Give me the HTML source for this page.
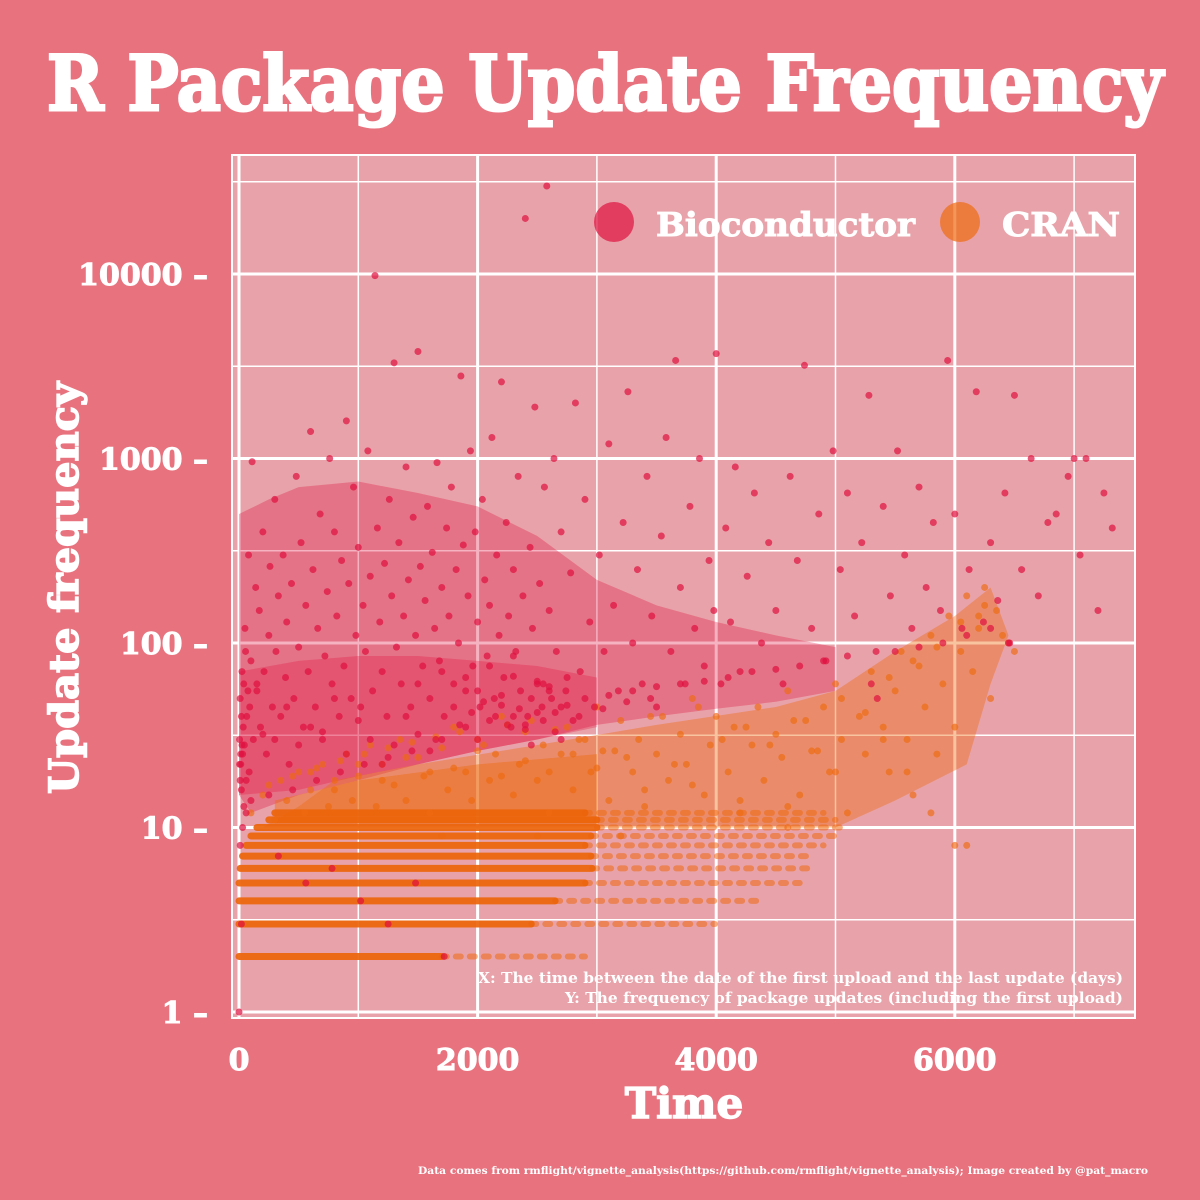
<!DOCTYPE html>
<html><head><meta charset="utf-8">
<style>
html,body{margin:0;padding:0;background:#E8737F;}
svg{display:block;}
text{font-family:"DejaVu Serif","Liberation Serif",serif;font-weight:bold;fill:#fff;}
</style></head>
<body>
<svg id="chart" width="1200" height="1200" viewBox="0 0 1200 1200">
<rect x="0" y="0" width="1200" height="1200" fill="#E8737F"/>
<text x="605" y="110" text-anchor="middle" font-size="76" stroke="#fff" stroke-width="3" textLength="1116" lengthAdjust="spacingAndGlyphs">R Package Update Frequency</text>
<rect x="232" y="155" width="903" height="863" fill="#E8A3AA"/>
<g id="grid"></g>
<g id="density"></g>
<g id="bands"></g>
<g id="cranpts"></g>
<g id="biopts"></g>
<g id="yticks"></g>
<g id="xticks"></g>
<text x="684" y="1118" text-anchor="middle" font-size="42" stroke="#fff" stroke-width="1.5">Time</text>
<text transform="translate(78,588) rotate(-90)" text-anchor="middle" font-size="40" stroke="#fff" stroke-width="1.5" textLength="412" lengthAdjust="spacingAndGlyphs">Update frequency</text>
<g>
<g>
<circle cx="614" cy="222" r="20" fill="#E0103F" fill-opacity="0.7"/>
<text x="656" y="236" font-size="33" stroke="#fff" stroke-width="1" textLength="259" lengthAdjust="spacingAndGlyphs">Bioconductor</text>
</g>
<g>
<circle cx="960" cy="222" r="20" fill="#EE6A10" fill-opacity="0.7"/>
<text x="1002" y="236" font-size="33" stroke="#fff" stroke-width="1" textLength="118" lengthAdjust="spacingAndGlyphs">CRAN</text>
</g>
</g>
<text x="1123" y="983" text-anchor="end" font-size="15" textLength="645" lengthAdjust="spacingAndGlyphs">X: The time between the date of the first upload and the last update (days)</text>
<text x="1123" y="1003" text-anchor="end" font-size="15" textLength="558" lengthAdjust="spacingAndGlyphs">Y: The frequency of package updates (including the first upload)</text>
<text x="1148" y="1174" text-anchor="end" font-size="10" textLength="730" lengthAdjust="spacingAndGlyphs">Data comes from  rmflight/vignette_analysis(https://github.com/rmflight/vignette_analysis); Image created by @pat_macro</text>
</svg>
<script>
const xTicks = [0, 2000, 4000, 6000];
const xMinor = [1000, 3000, 5000, 7000];
const yTicks = [1, 10, 100, 1000, 10000];
const yTickLabels = ["1", "10", "100", "1000", "10000"];
const yMinor = [3.1623, 31.623, 316.23, 3162.3, 31623];

const bioCloudX = [0,0,250,500,1000,1500,2000,2500,3000,3500,4000,4500,5000,5000,4500,4000,3500,3000,2500,2000,1500,1000,500,100];
const bioCloudY = [15,500,600,700,750,650,550,380,220,160,130,110,95,55,48,44,40,36,30,26,22,18,15,12];
const bioCoreX = [0,500,1000,1500,2000,2500,3000,3000,2500,2000,1500,1000,500,0];
const bioCoreY = [70,80,85,85,80,75,65,35,30,26,22,19,16,15];
const cranCloudX = [200,500,800,1500,2500,3500,4500,5000,5500,6000,6300,6450,6300,6100,5500,5000,4000,3000,1500,400];
const cranCloudY = [10,13,18,22,28,36,45,55,90,140,200,110,60,22,14,10,10,10,10,10];
const cranCoreX = [300,1000,2000,3000,3000,2000,1000,300];
const cranCoreY = [14,18,22,25,10.5,10.5,10.5,10.5];

const bandLevels = [2,3,4,5,6,7,8,9,10,11,12];
const bandStart = [0,0,0,0,10,30,60,100,150,250,300];
const bandDenseEnd = [1700,2450,2650,2900,2960,2950,2900,2950,3000,3000,2900];
const bandSparseEnd = [2900,3990,4400,4700,4800,4800,4900,5000,5100,5000,4900];

const bioX = [20,30,40,50,60,80,90,100,110,120,140,150,170,180,200,210,230,250,260,280,300,310,330,350,370,390,400,420,440,460,480,500,520,540,560,580,600,620,640,660,680,700,720,740,760,780,800,820,840,860,880,900,920,940,960,980,1000,1020,1040,1060,1080,1100,1120,1140,1160,1180,1200,1220,1240,1260,1280,1300,1320,1340,1360,1380,1400,1420,1440,1460,1480,1500,1520,1540,1560,1580,1600,1620,1640,1660,1680,1700,1720,1740,1760,1780,1800,1820,1840,1860,1880,1900,1920,1940,1960,1980,2000,2020,2040,2060,2080,2100,2120,2140,2160,2180,2200,2220,2240,2260,2280,2300,2320,2340,2360,2380,2400,2420,2440,2460,2480,2500,2520,2540,2560,2580,2600,2620,2640,2660,2700,2740,2780,2820,2860,2900,2940,2980,3020,3060,3100,3140,3180,3220,3260,3300,3340,3380,3420,3460,3500,3540,3580,3620,3660,3700,3740,3780,3820,3860,3900,3940,3980,4000,4040,4080,4120,4160,4200,4260,4320,4380,4440,4500,4560,4620,4680,4740,4800,4860,4920,4980,5040,5100,5160,5220,5280,5340,5400,5460,5520,5580,5640,5700,5760,5820,5880,5940,6000,6060,6120,6180,6240,6300,6360,6420,6460,6500,6560,6640,6700,6780,6850,6950,7000,7050,7100,7200,7250,7320,
5,10,15,25,35,45,55,65,75,85,300,500,700,900,1100,1300,1500,1700,1900,2100,2300,2500,2700,2900,3100,3300,3500,3700,3900,4100,4300,4500,4700,4900,5100,5300,5350,5500,5700,5900,6100,6300,6450,1200,1600,2000,2400,2800,2200,2600,2000,1800,1400,1000,600,200,2450,2650,2850,3050,3250,3450,2550,2750,1500,1700,1900,2100,2300,800,400,150,0,20,30,10,
2150,2250,2350,2450,2550,2650,2750,2050,2200,2400,2600,2500,2300,2700,1950,1850,1650,1450,1250,1050,850,650,450,250,100,60,40,20,10,15,5,25,330,560,780,1020,1250,1480,1720];
const bioY = [40,25,60,120,18,300,45,80,960,30,200,55,150,35,400,70,25,110,260,45,600,90,180,40,300,65,130,22,210,50,800,95,350,35,160,70,1400,250,45,120,500,30,85,190,1000,60,400,140,40,280,75,1600,210,50,700,110,330,45,160,90,1100,230,55,9800,420,130,70,270,40,600,180,3300,95,350,60,140,900,220,45,480,110,3800,260,75,170,550,50,310,120,950,80,200,40,420,140,700,60,250,100,2800,340,55,180,1100,75,400,130,45,600,220,85,160,1300,50,300,110,2600,65,450,140,35,250,90,800,55,180,20000,40,330,120,1900,60,210,45,700,30000,150,50,1000,90,400,55,240,2000,70,600,130,45,300,90,1200,160,55,450,2300,100,250,60,800,140,45,380,1300,90,3400,200,60,550,120,1000,75,280,150,3700,60,420,130,900,70,230,650,100,350,150,60,800,280,3200,120,500,80,1100,250,650,140,350,2200,90,550,180,1100,300,120,700,200,450,150,3400,500,120,250,2300,130,350,170,650,100,2200,250,1000,180,450,500,800,1000,300,1000,150,650,420,
30,50,22,70,35,28,90,40,55,20,30,28,33,25,30,28,32,30,35,38,40,42,45,50,52,55,58,60,62,65,70,72,75,80,85,60,50,90,95,100,110,120,100,22,26,30,34,38,46,55,55,45,40,38,35,32,28,33,40,44,48,50,60,65,60,70,65,75,85,50,45,60,1,3,10,8,
40,36,44,50,38,42,46,48,52,36,58,62,66,30,42,36,30,26,24,22,20,18,16,15,14,12,13,16,18,25,22,28,7,5,6,4,3,5,2];

const cranX = [100,200,300,350,400,500,550,600,700,750,800,900,950,1000,1100,1150,1200,1300,1350,1400,1500,1550,1600,1700,1750,1800,1900,1950,2000,2100,2150,2200,2300,2350,2400,2500,2550,2600,2700,2750,2800,2900,2950,3000,3100,3150,3200,3300,3350,3400,3500,3550,3600,3700,3750,3800,3900,3950,4000,4100,4150,4200,4300,4350,4400,4500,4550,4600,4700,4750,4800,4900,4950,5000,5050,5100,5200,5250,5300,5400,5450,5500,5550,5600,5650,5700,5750,5800,5850,5900,5950,6000,6050,6100,6150,6200,6250,6300,6350,6100,6000,5800,5600,4600,3200,2500,1700,
250,450,650,850,1050,1250,1450,1650,1850,2050,2250,2450,2650,2850,3050,3250,3450,3650,3850,4050,4250,4450,4650,4850,5050,5250,5450,5650,5850,6050,6250,
600,800,1000,1200,1400,1600,1800,2000,2200,2400,2600,2800,3000,3400,3800,4200,4600,5000,5400,6200,6400,6500,6450];
const cranY = [12,15,11,18,14,20,12,16,22,13,18,25,14,19,28,13,22,17,30,14,24,19,12,27,16,35,20,14,30,18,25,40,15,22,33,18,28,12,25,35,16,30,20,45,14,26,38,20,30,13,25,40,18,32,22,50,15,28,40,20,35,12,28,45,18,32,24,55,15,38,26,45,20,60,30,12,40,25,70,35,20,55,90,30,15,75,45,110,25,60,140,35,90,180,70,120,200,50,150,8,8,12,20,10,9,9,9,
17,19,21,23,25,27,29,31,33,28,36,38,34,30,26,24,40,22,45,30,35,28,38,26,50,42,65,80,95,130,160,
20,16,22,18,24,20,21,26,19,23,20,25,21,16,17,14,13,20,30,140,110,90,100];

const X0 = 239, XK = 119.3/1000;
const Y1 = 1012, YD = 184.5;
function sx(v){ return X0 + v*XK; }
function sy(v){ return Y1 - Math.log10(v)*YD; }
const NS = "http://www.w3.org/2000/svg";
function mk(tag, attrs, parent){
  const e = document.createElementNS(NS, tag);
  for (const k in attrs) e.setAttribute(k, attrs[k]);
  parent.appendChild(e); return e;
}
const grid = document.getElementById('grid');
xMinor.forEach(v => {
  const l = mk('line', {x1:sx(v), x2:sx(v), y1:155, y2:1018, stroke:'#fff', 'stroke-width':1.5}, grid);
  
  
});
yMinor.forEach(v => {
  if (sy(v) < 155) return;
  const l = mk('line', {x1:232, x2:1135, y1:sy(v), y2:sy(v), stroke:'#fff', 'stroke-width':1.5}, grid);
  
  
});
xTicks.forEach(v => {
  const l = mk('line', {x1:sx(v), x2:sx(v), y1:155, y2:1018, stroke:'#fff', 'stroke-width':3}, grid);
  
  
});
yTicks.forEach(v => {
  const l = mk('line', {x1:232, x2:1135, y1:sy(v), y2:sy(v), stroke:'#fff', 'stroke-width':3}, grid);
  
  
});
mk('rect', {x:232, y:155, width:903, height:863, fill:'none', stroke:'#fff', 'stroke-width':2}, grid);

const dens = document.getElementById('density');
const bioPoly = mk('polygon', {points: bioCloudX.map((v,i)=>sx(v)+','+sy(bioCloudY[i])).join(' '), fill:'#E0103F', 'fill-opacity':0.32}, dens);


const bioCore = mk('polygon', {points: bioCoreX.map((v,i)=>sx(v)+','+sy(bioCoreY[i])).join(' '), fill:'#E0103F', 'fill-opacity':0.3}, dens);


const cranPoly = mk('polygon', {points: cranCloudX.map((v,i)=>sx(v)+','+sy(cranCloudY[i])).join(' '), fill:'#EE6A10', 'fill-opacity':0.4}, dens);


const cranCore = mk('polygon', {points: cranCoreX.map((v,i)=>sx(v)+','+sy(cranCoreY[i])).join(' '), fill:'#EE6A10', 'fill-opacity':0.45}, dens);



const bands = document.getElementById('bands');
bandLevels.forEach((lv, i) => {
  const y = sy(lv);
  const s = mk('line', {x1:sx(bandDenseEnd[i]), x2:sx(bandSparseEnd[i]), y1:y, y2:y, stroke:'#EE6A10', 'stroke-opacity':0.55, 'stroke-width':6, 'stroke-dasharray':'5 9', 'stroke-linecap':'round'}, bands);
  
  
  const d = mk('line', {x1:sx(bandStart[i]), x2:sx(bandDenseEnd[i]), y1:y, y2:y, stroke:'#EB640A', 'stroke-opacity':0.92, 'stroke-width':7, 'stroke-linecap':'round'}, bands);
  
  
});
const cp = document.getElementById('cranpts');
cranX.forEach((v, i) => {
  const c = mk('circle', {cx:sx(v), cy:sy(cranY[i]), r:3.5, fill:'#EE6A10', 'fill-opacity':0.65}, cp);
  
  
});
const bp = document.getElementById('biopts');
bioX.forEach((v, i) => {
  const c = mk('circle', {cx:sx(v), cy:sy(bioY[i]), r:3.5, fill:'#E0103F', 'fill-opacity':0.7}, bp);
  
  
});
const yt = document.getElementById('yticks');
yTicks.forEach((v, i) => {
  const t = mk('text', {x:208, y:sy(v)+11, 'text-anchor':'end', 'font-size':30, stroke:'#fff', 'stroke-width':1}, yt);
  t.textContent = yTickLabels[i] + " \u2013";
  
  
});
const xt = document.getElementById('xticks');
xTicks.forEach(v => {
  const t = mk('text', {x:sx(v), y:1070, 'text-anchor':'middle', 'font-size':30, stroke:'#fff', 'stroke-width':1}, xt);
  t.textContent = String(v);
  
  
});
</script>
</body></html>
